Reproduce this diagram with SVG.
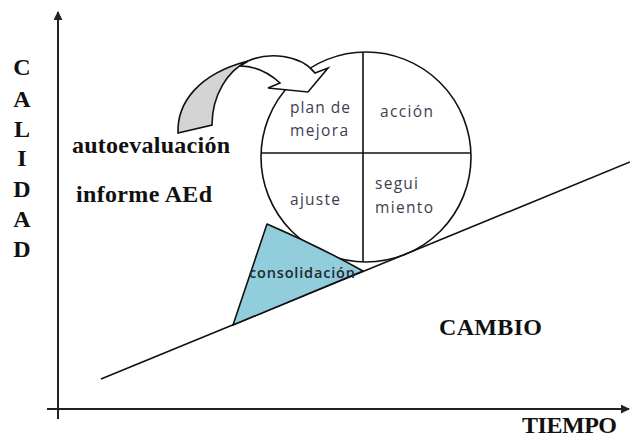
<svg xmlns="http://www.w3.org/2000/svg" width="630" height="438" viewBox="0 0 630 438">
<style>
.ser{font-family:"Liberation Serif","Times New Roman",serif;font-weight:bold;font-size:24px;fill:#111;}
.san{font-family:"Open Sans","Liberation Sans",sans-serif;font-size:15.5px;fill:#3d3d50;}
.ln{stroke:#111;stroke-width:1.6;fill:none;}
.ax{stroke:#222;stroke-width:2;fill:none;}
</style>
<defs>
<marker id="ah" viewBox="0 0 10 10" refX="9" refY="5" markerWidth="4.5" markerHeight="4.5" orient="auto" markerUnits="strokeWidth">
<path d="M0,0 L10,5 L0,10 Z" fill="#222"/>
</marker>
</defs>
<rect width="630" height="438" fill="#fff"/>
<g id="connectors">
<line class="ax" x1="58" y1="419" x2="58" y2="12" marker-end="url(#ah)"/>
<line class="ax" x1="47" y1="409" x2="629" y2="409" marker-end="url(#ah)"/>
<line class="ln" x1="101" y1="379" x2="630" y2="162"/>
</g>
<g id="ciclo">
<circle cx="366" cy="157" r="105" fill="#fff" class="ln"/>
<line class="ln" x1="363" y1="52" x2="363" y2="262"/>
<line class="ln" x1="261" y1="153" x2="471" y2="153"/>
<text class="san" x="290" y="113" textLength="60">plan de</text>
<text class="san" x="290" y="136" textLength="58">mejora</text>
<text class="san" x="380" y="117" textLength="53">acción</text>
<text class="san" x="290" y="205" textLength="50">ajuste</text>
<text class="san" x="375" y="189" textLength="43">segui</text>
<text class="san" x="375" y="213" textLength="58">miento</text>
</g>
<g id="flecha">
<path d="M248,61 C268,52 300,54 315,73 L328,68 L308,92 L268,88 L280,83 C268,72 256,66 240,66 Z" fill="#fff" stroke="#111" stroke-width="1.6" stroke-linejoin="miter"/>
<path d="M178,133 C177,103 198,74 248,61 C228,70 212,95 212,125 Z" fill="#d4d4d4" stroke="#111" stroke-width="1.6"/>
</g>
<g id="consolidacion">
<path d="M267,224 Q318,246 363,271 L233,325 Z" fill="#92cddc" stroke="#111" stroke-width="1.6" stroke-linejoin="round"/>
<text class="san" x="249" y="278" textLength="106" style="fill:#1e2a30;font-weight:600;font-size:14.5px;">consolidación</text>
</g>
<g id="etiquetas">
<text class="ser" x="22" y="75" text-anchor="middle">C</text>
<text class="ser" x="22" y="107" text-anchor="middle">A</text>
<text class="ser" x="22" y="137" text-anchor="middle">L</text>
<text class="ser" x="22" y="166" text-anchor="middle">I</text>
<text class="ser" x="22" y="197" text-anchor="middle">D</text>
<text class="ser" x="22" y="227" text-anchor="middle">A</text>
<text class="ser" x="22" y="257" text-anchor="middle">D</text>
<text class="ser" x="72" y="153" textLength="158">autoevaluación</text>
<text class="ser" x="76" y="202" textLength="136">informe AEd</text>
<text class="ser" x="439" y="335" textLength="103">CAMBIO</text>
<text class="ser" x="522" y="433" textLength="95">TIEMPO</text>
</g>
</svg>
